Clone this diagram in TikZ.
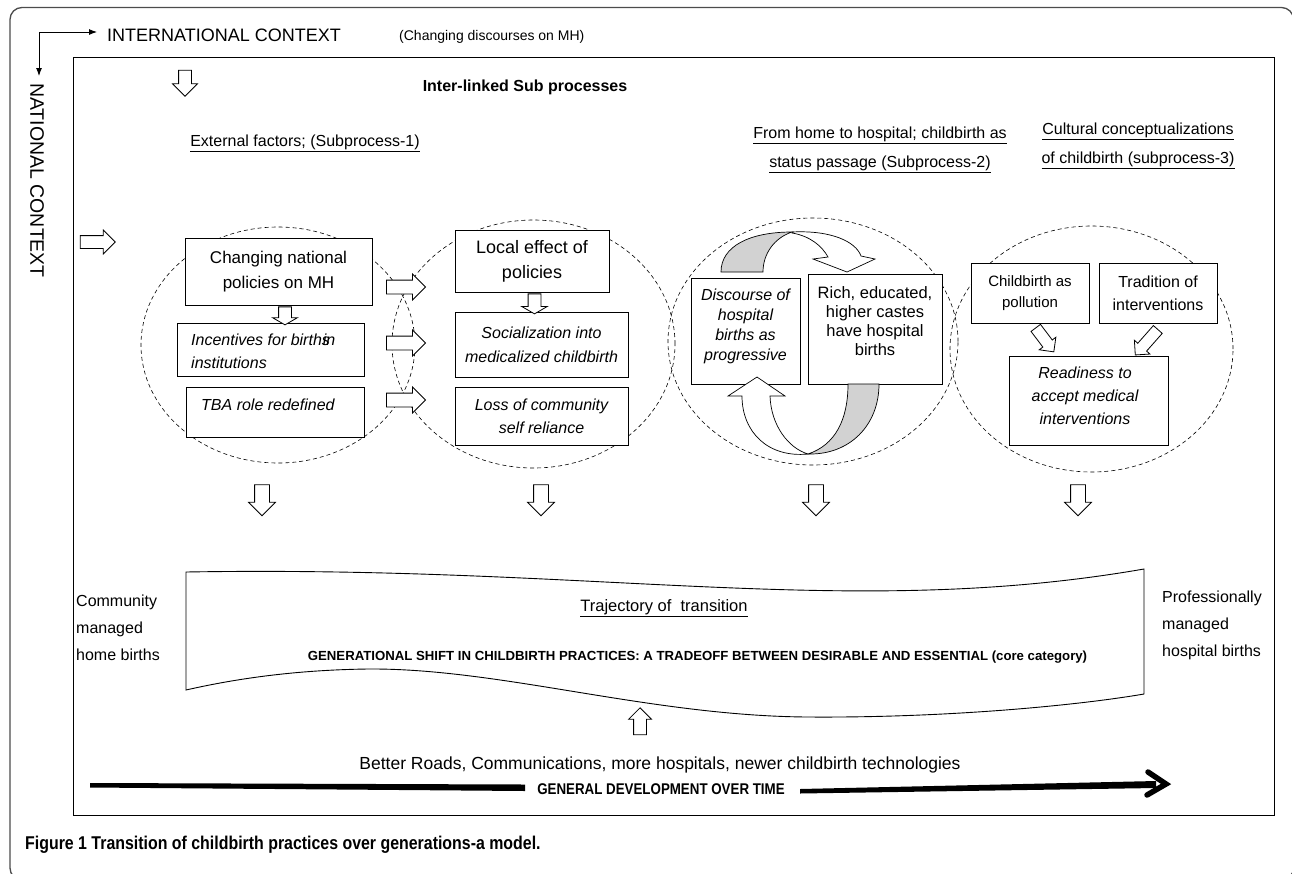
\documentclass[tikz,border=0pt]{standalone}
\usepackage{fontspec}
\setmainfont{Liberation Sans}
\newfontfamily\condfont[FakeStretch=0.86]{Liberation Sans}
\usetikzlibrary{shapes.arrows,shapes.geometric,arrows.meta}
\newcommand\fsz[2]{\fontsize{#1}{#2}\selectfont}
\begin{document}
\begin{tikzpicture}[x=1pt,y=-1pt,
  bx/.style={draw, line width=0.9pt, inner sep=0pt, align=center, fill=white},
  circ/.style={ellipse, draw, dash pattern=on 4pt off 3pt, line width=0.6pt, inner sep=0pt},
  barrow/.style={single arrow, draw, fill=white, line width=0.8pt, inner xsep=0pt, single arrow tip angle=90},
  ribbon/.style={draw, line width=0.7pt},
  sub/.style={font=\fsz{16}{29}, align=center}]
\useasboundingbox (0,0) rectangle (1292,873);
% frames
\draw[rounded corners=12pt, line width=1.3pt, black!70] (10,7.5) rectangle (1293.5,880);
\node[draw, line width=1pt, minimum width=1201, minimum height=758, anchor=north west, inner sep=0pt] (inner) at (73,57) {};
% corner arrows
\coordinate (corner) at (39,32);
\coordinate (cright) at (97,32);
\coordinate (cdown) at (39,76);
\draw[line width=0.9pt, -{Latex[length=8pt,width=6pt]}] (corner) -- (cright);
\draw[line width=0.9pt, -{Latex[length=8pt,width=6pt]}] (corner) -- (cdown);
\node[font=\fsz{18}{22}, anchor=west, inner sep=0pt] (intl) at (107,35.5) {INTERNATIONAL CONTEXT};
\node[font=\fsz{14}{17}, anchor=west, inner sep=0pt] (chg) at (399,37) {(Changing discourses on MH)};
\node[font=\fsz{19.5}{22}, anchor=west, rotate=-90, inner sep=0pt] (natl) at (37,83) {NATIONAL CONTEXT};
% headings
\node[font=\bfseries\fsz{16}{20}] (head) at (525,87) {Inter-linked Sub processes};
\node[sub] (s1) at (305,143) {\underline{External factors; (Subprocess-1)}};
\node[sub] (s2) at (880,149.5) {\underline{From home to hospital; childbirth as}\\\underline{status passage (Subprocess-2)}};
\node[sub] (s3) at (1138,145.5) {\underline{Cultural conceptualizations}\\\underline{of childbirth (subprocess-3)}};
% circles
\node[circ, minimum width=274, minimum height=236] (c1) at (278,345) {};
\node[circ, minimum width=283, minimum height=248] (c2) at (533.5,344) {};
\node[circ, minimum width=290, minimum height=247] (c3) at (813,341.5) {};
\node[circ, minimum width=283, minimum height=246] (c4) at (1091.5,349) {};
% subprocess 1
\node[bx, minimum width=187, minimum height=67, font=\fsz{17}{25}] (b1) at (278.5,271.5) {Changing national\\policies on MH};
\node[bx, minimum width=187, minimum height=53] (b2) at (270.5,349.5) {};
\node[font=\itshape\fsz{16}{23}, align=left, anchor=west, inner sep=0pt] (b2t) at (191,351.5) {Incentives for birth\rlap{s}\kern1pt in\\institutions};
\node[bx, minimum width=178, minimum height=50] (b3) at (275,412) {};
\node[font=\itshape\fsz{16}{20}, anchor=west, inner sep=0pt] (b3t) at (201,405) {TBA role redefined};
% subprocess 1b
\node[bx, minimum width=154, minimum height=62, font=\fsz{18}{25}] (b4) at (532,261) {Local effect of\\policies};
\node[bx, minimum width=173, minimum height=65, font=\itshape\fsz{16}{24}] (b5) at (541.5,344.5) {Socialization into\\medicalized childbirth};
\node[bx, minimum width=173, minimum height=58, font=\itshape\fsz{16}{23}] (b6) at (541.5,416) {Loss of community\\self reliance};
% subprocess 2
\node[bx, minimum width=109, minimum height=106] (b7) at (745.5,331) {};
\node[font=\itshape\fsz{16}{20}, align=center, inner sep=0pt] (b7t) at (745.5,326) {Discourse of\\hospital\\births as\\progressive};
\node[bx, minimum width=134, minimum height=110] (b8) at (875,329) {};
\node[font=\fsz{16.5}{19}, align=center, inner sep=0pt] (b8t) at (875,321) {Rich, educated,\\higher castes\\have hospital\\births};
% subprocess 3
\node[bx, minimum width=118, minimum height=60, font=\fsz{15}{21}] (b9) at (1030,293) {Childbirth as\\pollution};
\node[bx, minimum width=118, minimum height=60, font=\fsz{16}{23}] (b10) at (1158,293) {Tradition of\\interventions};
\node[bx, minimum width=159, minimum height=89] (b11) at (1088.5,400.5) {};
\node[font=\itshape\fsz{16}{23}, align=center, inner sep=0pt] (b11t) at (1085,396) {Readiness to\\accept medical\\interventions};
% block arrows
\node[barrow, rotate=-90, minimum height=26, minimum width=24, inner ysep=6pt, single arrow head extend=6pt] (a0) at (185,80) {};
\node[barrow, minimum height=35, minimum width=23, inner ysep=6pt, single arrow head extend=5.5pt] (a1) at (94.5,242) {};
\node[barrow, rotate=-90, minimum height=18, minimum width=24, inner ysep=6pt, single arrow head extend=6pt, single arrow tip angle=120] (a2) at (285,314) {};
\node[barrow, rotate=-90, minimum height=20, minimum width=25, inner ysep=6pt, single arrow head extend=6.5pt, single arrow tip angle=120] (a3) at (534.5,302) {};
\node[barrow, minimum height=39, minimum width=25, inner ysep=6.5pt, single arrow head extend=6pt] (r1) at (402.5,287) {};
\node[barrow, minimum height=39, minimum width=25, inner ysep=6.5pt, single arrow head extend=6pt] (r2) at (402.5,343) {};
\node[barrow, minimum height=39, minimum width=25, inner ysep=6.5pt, single arrow head extend=6pt] (r3) at (402.5,400) {};
\node[barrow, rotate=-53, minimum height=30, minimum width=20, inner ysep=5.5pt, single arrow head extend=4.5pt] (g1) at (1043,337.5) {};
\node[barrow, rotate=-131.5, minimum height=34, minimum width=20, inner ysep=5.5pt, single arrow head extend=4.5pt] (g2) at (1148.5,340) {};
\foreach \n/\xx in {d1/262,d2/541,d3/816,d4/1078}
  \node[barrow, rotate=-90, minimum height=31, minimum width=26, inner ysep=7pt, single arrow head extend=6pt] (\n) at (\xx,496.5) {};
% curved ribbon arrows (subprocess 2)
\draw[ribbon, fill=white] (792,232) .. controls (832,230) and (856,242) .. (861,256) -- (875,259) -- (847,272) -- (813,259) -- (828,257) .. controls (822,246) and (810,236) .. (792,233) -- cycle;
\draw[ribbon, fill=gray!35] (721,272) .. controls (721,246) and (750,232) .. (792,232) .. controls (774,238) and (763,254) .. (763,272) -- cycle;
\draw[ribbon, fill=white] (808,454) .. controls (768,458) and (742,432) .. (742,396) -- (728,396) -- (757,377) -- (785,396) -- (770,396) .. controls (771,425) and (788,448) .. (808,454) -- cycle;
\draw[ribbon, fill=gray!35] (848,384) .. controls (848,420) and (835,445) .. (808,454) .. controls (850,455) and (879,425) .. (879,384) -- cycle;
% banner
\draw[line width=0.9pt, fill=white] (186,572) .. controls (600,565) and (850,620) .. (1144,569) -- (1144,694) .. controls (1080,705) and (950,718) .. (808,717) .. controls (650,716) and (500,668) .. (368,669) .. controls (290,670) and (230,680) .. (186,690) -- cycle;
\node[font=\fsz{16.5}{20}] (traj) at (664,608) {\underline{Trajectory of\ \ transition}};
\node[font=\bfseries\fsz{13.2}{16}] (gen) at (697.5,657) {GENERATIONAL SHIFT IN CHILDBIRTH PRACTICES: A TRADEOFF BETWEEN DESIRABLE AND ESSENTIAL (core category)};
\node[font=\fsz{16}{27}, align=left, anchor=west, inner sep=0pt] (home) at (76,628) {Community\\managed\\home births};
\node[font=\fsz{16}{27}, align=left, anchor=west, inner sep=0pt] (hosp) at (1162,625) {Professionally\\managed\\hospital births};
\node[barrow, rotate=90, minimum height=27, minimum width=22, inner ysep=6pt, single arrow head extend=5pt] (u1) at (640,724.5) {};
\node[font=\fsz{17.5}{20}] (roads) at (660,765) {Better Roads, Communications, more hospitals, newer childbirth technologies};
% general development arrow
\fill (90,783) -- (525,784.5) -- (525,791) -- (90,787.5) -- cycle;
\fill (800,789) -- (1156,781) -- (1156,788) -- (800,793.5) -- cycle;
\coordinate (hu) at (1148,772);
\coordinate (ht) at (1166,784);
\coordinate (hl) at (1147,795);
\draw[line width=5.5pt, line cap=round] (hu) -- (ht) -- (hl);
\node[font=\condfont\bfseries\fsz{15.5}{18}] (gdev) at (661,789) {GENERAL DEVELOPMENT OVER TIME};
% caption
\node[font=\condfont\bfseries\fsz{18.5}{22}, anchor=west, inner sep=0pt] (cap) at (25,845) {Figure 1 Transition of childbirth practices over generations-a model.};
\end{tikzpicture}
\end{document}
